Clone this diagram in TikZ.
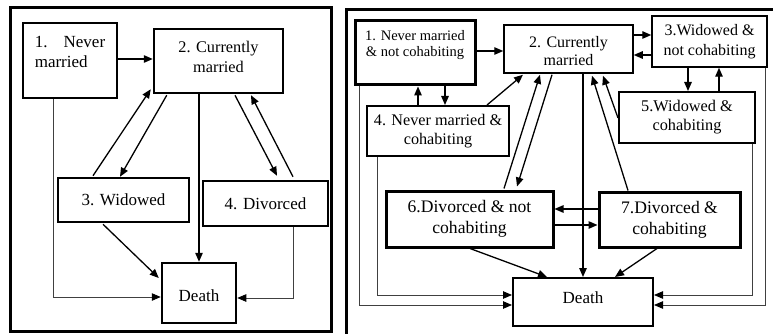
\documentclass[tikz,border=0pt]{standalone}
\usepackage{fontspec}
\setmainfont{Liberation Serif}
\usetikzlibrary{arrows.meta,calc}
\tikzset{
  fs/.style 2 args={font=\fontsize{#1}{#2}\selectfont},
  bx/.style={draw, line width=#1, inner sep=0pt, align=center, fs={17}{19.5}},
  bx/.default=2.5pt,
  txt/.style={inner sep=0pt, align=center, fs={17}{19.5}},
  arr/.style={line width=1.3pt, -{Triangle[length=9pt,width=7.5pt]}},
  thinarr/.style={line width=0.8pt, draw=black!75, -{Triangle[length=9pt,width=7.5pt,color=black,fill=black]}},
  frame/.style={line width=3pt}
}
\begin{document}
\begin{tikzpicture}[x=1pt,y=-1pt]
\useasboundingbox (0,0) rectangle (773,334);
% ---------- left panel ----------
\draw[frame] (10,8) rectangle (331,331);
\node[bx, minimum width=94pt, minimum height=75pt] (n1) at (70,60.5) {};
\node[txt, align=left] (n1t) at (70,52) {1.\hspace{0.95em}Never\\married};
\node[bx, minimum width=129pt, minimum height=64pt] (n2) at (218.5,61) {};
\node[txt, fs={16.3}{20}] (n2t) at (218.5,57) {2. Currently\\married};
\node[bx, minimum width=131pt, minimum height=44pt] (n3) at (123.5,200) {3. Widowed};
\node[bx, minimum width=125pt, minimum height=45pt] (n4) at (265.5,203.5) {4. Divorced};
\node[bx, minimum width=74pt, minimum height=60pt] (nD) at (199,293) {};
\node[txt] (nDt) at (199,296) {Death};

\draw[arr] ($(n1.east)+(0,-1.5)$) -- ($(n2.west)+(0,-2)$);
\draw[arr] ($(n3.north)+(-30.5,-1)$) -- ($(n2.south west)+(-2,-5)$);
\draw[arr] ($(n2.south west)+(14,1)$) -- ($(n3.north)+(-3.5,0)$);
\draw[arr] ($(n2.south)+(16.5,1)$) -- ($(n4.north)+(11.5,-4)$);
\draw[arr] ($(n4.north)+(27.5,-3)$) -- ($(n2.south)+(32.5,1)$);
\draw[arr] ($(n2.south)+(-19.5,0)$) -- (nD.north);
\draw[arr] ($(n3.south)+(-20.5,1)$) -- ($(nD.west)+(-2,-15)$);
\draw[thinarr] ($(n1.south)+(-17,0)$) |- ($(nD.west)+(0,4)$);
\draw[thinarr] ($(n4.south)+(27.5,0)$) |- ($(nD.east)+(0,5)$);

% ---------- right panel ----------
\draw[frame] (346,334) -- (346,10) -- (773,10);
\node[bx=3pt, minimum width=120pt, minimum height=64pt] (r1) at (415,53) {};
\node[txt, fs={14.5}{16.5}] (r1t) at (415,45) {1. Never married\\\& not cohabiting};
\node[bx=1.5pt, minimum width=129pt, minimum height=48pt] (r2) at (568.5,49) {};
\node[txt, fs={16}{18.5}] (r2t) at (568.5,51) {2. Currently\\married};
\node[bx=1.5pt, minimum width=115pt, minimum height=51pt, fs={16}{20}] (r3) at (709.5,41.5) {3.Widowed \&\\not cohabiting};
\node[bx=2pt, minimum width=142pt, minimum height=50pt, fs={16.2}{19}] (r4) at (438,131) {4. Never married \&\\cohabiting};
\node[bx=2pt, minimum width=136pt, minimum height=51pt, fs={16.3}{19}] (r5) at (687,117.5) {5.Widowed \&\\cohabiting};
\node[bx=3pt, minimum width=167pt, minimum height=56pt, fs={17.6}{21}] (r6) at (469.5,219) {6.Divorced \& not\\cohabiting};
\node[bx=3pt, minimum width=141pt, minimum height=55pt, fs={17.6}{21}] (r7) at (669.5,219.5) {7.Divorced \&\\cohabiting};
\node[bx=2pt, minimum width=140pt, minimum height=48pt] (rD) at (583,302) {};
\node[txt] (rDt) at (583,298) {Death};

\draw[arr] ($(r1.east)+(0,-2)$) -- ($(r2.west)+(0,2)$);
\draw[arr] ($(r2.east)+(0,-14)$) -- ($(r3.west)+(0,-6.5)$);
\draw[arr] ($(r3.west)+(0,13.5)$) -- ($(r2.east)+(0,6)$);
\draw[arr] ($(r3.south)+(-21.5,0)$) -- ($(r5.north)+(1,0)$);
\draw[arr] ($(r5.north)+(32,0)$) -- ($(r3.south)+(9.5,0)$);
\draw[arr] ($(r4.north)+(-20,0)$) -- ($(r1.south)+(3,0)$);
\draw[arr] ($(r1.south)+(30,0)$) -- ($(r4.north)+(7,0)$);
\draw[arr] ($(r4.north)+(49,0)$) -- ($(r2.south)+(-45.5,1)$);
\draw[arr] ($(r6.north)+(34.5,-1)$) -- ($(r2.south)+(-28.5,1)$);
\draw[arr] ($(r2.south)+(-16.5,1)$) -- ($(r6.north)+(47.5,-3)$);
\draw[arr] ($(r2.south)+(14.5,0)$) -- (rD.north);
\draw[arr] ($(r7.north)+(-41.5,0)$) -- ($(r2.south)+(23.5,2)$);
\draw[arr] ($(r5.west)+(0,0.5)$) -- ($(r2.south)+(34.5,2)$);
\draw[arr] ($(r7.west)+(0,-10.5)$) -- ($(r6.east)+(0,-10)$);
\draw[arr] ($(r6.east)+(0,6)$) -- ($(r7.west)+(0,5.5)$);
\draw[arr] ($(r6.south)+(0.5,0)$) -- ($(rD.north)+(-36,0)$);
\draw[arr] ($(r7.south)+(-12.5,0)$) -- ($(rD.north)+(32,0)$);
\draw[thinarr] ($(r4.south)+(-61,0)$) |- ($(rD.west)+(0,-7)$);
\draw[thinarr] ($(r1.south)+(-56,0)$) |- ($(rD.west)+(0,3)$);
\draw[thinarr] ($(r5.south)+(65,0)$) |- ($(rD.east)+(0,-7)$);
\draw[thinarr] ($(r3.south)+(55.5,0)$) |- ($(rD.east)+(0,3)$);
\end{tikzpicture}
\end{document}
